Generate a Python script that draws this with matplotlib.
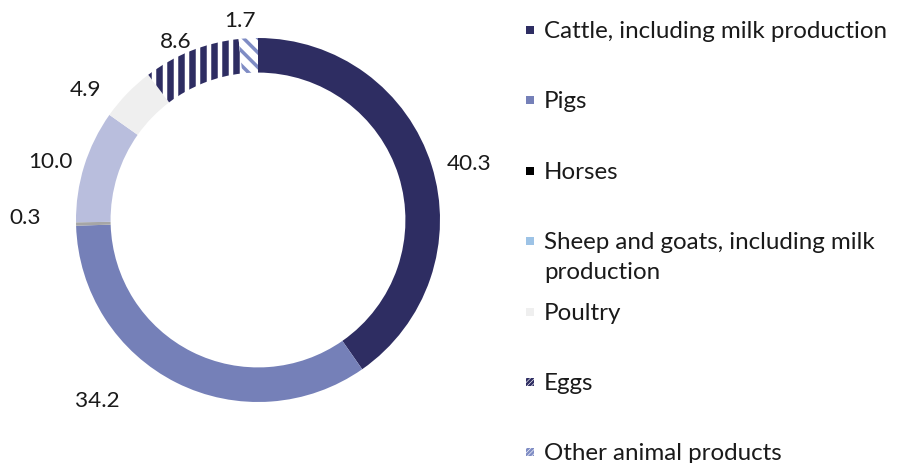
import matplotlib
matplotlib.use("Agg")
import matplotlib.pyplot as plt
import matplotlib.patches as mpatches
import numpy as np

categories = ["Cattle, including milk production", "Pigs", "Horses",
              "Sheep and goats, including milk\nproduction", "Poultry", "Eggs",
              "Other animal products"]
values = [40.3, 34.2, 0.3, 10.0, 4.9, 8.6, 1.7]
value_labels = ["40.3", "34.2", "0.3", "10.0", "4.9", "8.6", "1.7"]

wedge_colors = ["#2e2d62", "#7580b8", "#a6a6a6", "#b9bedd", "#efefef", "#ffffff", "#ffffff"]
hatch_colors = [None, None, None, None, None, "#2e2d62", "#7f8cc4"]
hatches = [None, None, None, None, None, "||", "\\\\\\"]
hatch_widths_px = [0, 0, 0, 0, 0, 6.5, 3.5]
legend_colors = ["#2e2d62", "#7580b8", "#000000", "#9dc3e6", "#efefef", "#2e2d62", "#7f8cc4"]

DPI = 132
def pt(px):
    return px * 72.0 / DPI

plt.rcParams['font.family'] = ['Lato', 'DejaVu Sans']
plt.rcParams['hatch.linewidth'] = pt(6.5)
W, H = 898, 463
fig = plt.figure(figsize=(W/DPI, H/DPI), dpi=DPI)

cx, cy, R = 258, 220, 182
ax = fig.add_axes([(cx - R)/W, (H - cy - R)/H, 2*R/W, 2*R/H])

wedges, _ = ax.pie(values, startangle=90, counterclock=False, colors=wedge_colors,
                   wedgeprops=dict(width=0.19, linewidth=0))
for w, hc, h, hw in zip(wedges, hatch_colors, hatches, hatch_widths_px):
    if h is not None:
        w.set_hatch(h)
        w.set_edgecolor(hc)
        w.set_linewidth(0)
        if hasattr(w, 'set_hatch_linewidth'):
            w.set_hatch_linewidth(pt(hw))
ax.set_xlim(-1, 1)
ax.set_ylim(-1, 1)
ax.set_aspect('equal')

# data label positions (pixel coords of label centre)
label_pos = [(469, 164), (97, 401), (25, 218), (50, 162), (85, 90), (176, 42), (240, 21)]
for (px, py), t in zip(label_pos, value_labels):
    fig.text(px / W, 1 - py / H, t, ha='center', va='center', fontsize=pt(22.5),
             color='#1a1a1a')

# legend
lx, tx = 530, 544
for i, name in enumerate(categories):
    y = 30 + i * 70.4
    sq = 8
    if hatches[i] is None:
        p = mpatches.Rectangle(((lx - sq/2)/W, 1 - (y + sq/2)/H), sq/W, sq/H,
                               transform=fig.transFigure, facecolor=legend_colors[i],
                               edgecolor='none')
    else:
        p = mpatches.Rectangle(((lx - sq/2)/W, 1 - (y + sq/2)/H), sq/W, sq/H,
                               transform=fig.transFigure, facecolor='white',
                               edgecolor=legend_colors[i], hatch='//////////', linewidth=0)
        if hasattr(p, 'set_hatch_linewidth'):
            p.set_hatch_linewidth(pt(2.5))
    fig.add_artist(p)
    for j, line in enumerate(name.split("\n")):
        fig.text(tx / W, 1 - (y + 8 + 30 * j) / H, line, ha='left', va='baseline',
                 fontsize=pt(24.2), color='#1a1a1a')

fig.savefig("out.png", dpi=DPI)
